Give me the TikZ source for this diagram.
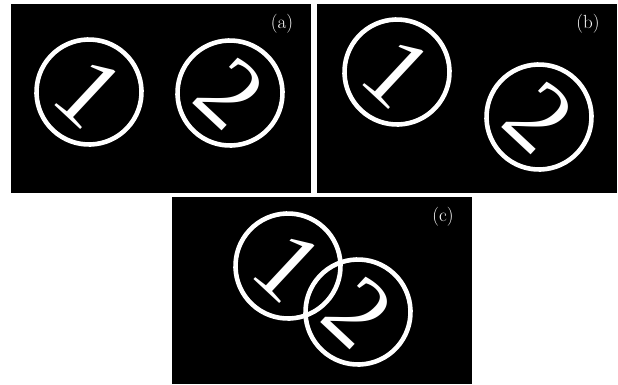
\documentclass[tikz,border=0pt]{standalone}
\usepackage{fontspec}
\newfontfamily\digitfont{Liberation Serif}
\begin{document}
\begin{tikzpicture}[
    x=1pt, y=-1pt,
    panel/.style={fill=black},
    coin/.style={circle, draw=white, line width=4.6pt, minimum size=105pt, inner sep=0pt, text=white, font=\digitfont\fontsize{100}{100}\selectfont, rotate=-43},
    lbl/.style={text=white, inner sep=0pt, font=\fontsize{19}{19}\selectfont}
]
\useasboundingbox (0,0) rectangle (618,384);
\fill[panel] (11,4) rectangle (311,193);
\fill[panel] (317,4) rectangle (617,193);
\fill[panel] (172,197) rectangle (472,384);
\node[coin] (a1) at (89,92) {1};
\node[coin] (a2) at (230,93) {2};
\node[lbl] (la) at (282,24) {(a)};
\node[coin] (b1) at (397,72) {1};
\node[coin] (b2) at (539,117) {2};
\node[lbl] (lb) at (588,24) {(b)};
\node[coin] (c1) at (288,266) {1};
\node[coin] (c2) at (358,312) {2};
\node[lbl] (lc) at (443,217) {(c)};
\end{tikzpicture}
\end{document}
